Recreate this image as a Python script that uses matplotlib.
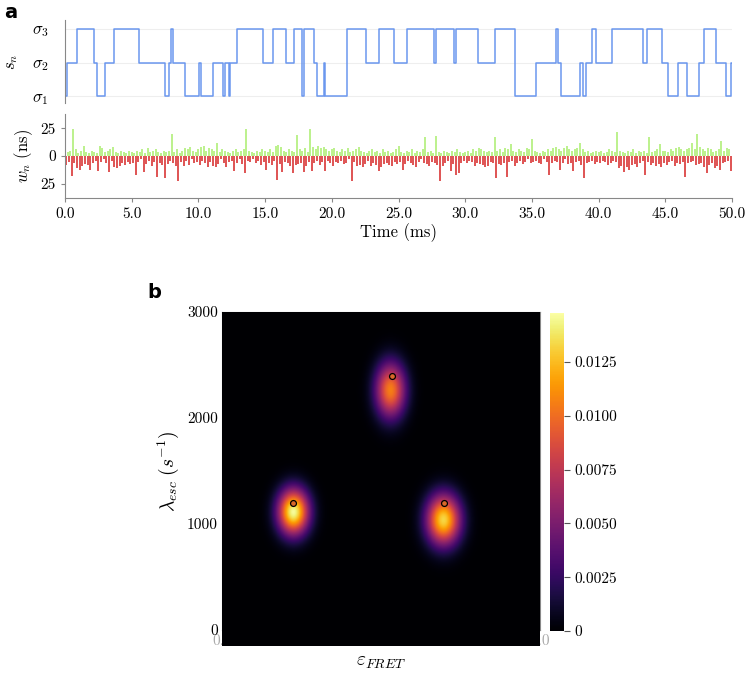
import numpy as np
import matplotlib
matplotlib.use('Agg')
import matplotlib.pyplot as plt

plt.rcParams['font.family'] = 'serif'
plt.rcParams['font.serif'] = ['cmr10', 'DejaVu Serif']
plt.rcParams['mathtext.fontset'] = 'cm'
plt.rcParams['axes.unicode_minus'] = False
plt.rcParams['axes.formatter.use_mathtext'] = True

# --- panel a: state trajectory (switch time in ms, new state) ---
state_start = 1
switch_t = [0.17, 0.88, 2.20, 2.37, 3.00, 3.67, 5.52, 7.50, 7.82, 7.93, 8.08, 9.03,
            10.07, 10.17, 11.12, 11.82, 12.03, 12.30, 12.38, 12.92, 14.87, 15.57,
            16.54, 17.19, 17.79, 17.92, 18.69, 18.87, 19.44, 19.50, 21.12, 22.56,
            23.54, 24.69, 25.66, 27.66, 27.81, 29.18, 29.31, 30.98, 32.23, 33.71,
            35.28, 36.81, 36.93, 37.16, 38.60, 38.80, 39.03, 39.48, 39.78, 41.03,
            43.35, 43.65, 44.73, 45.18, 45.98, 46.60, 47.55, 47.92, 48.78, 49.53,
            49.90]
switch_s = [2, 3, 2, 1, 2, 3, 2, 1, 2, 3, 2, 1,
            2, 1, 2, 1, 2, 1, 2, 3, 2, 3,
            2, 3, 1, 3, 2, 1, 2, 1, 3, 2,
            3, 2, 3, 2, 3, 2, 3, 2, 3, 1,
            2, 3, 2, 1, 2, 1, 2, 3, 2, 3,
            2, 3, 2, 1, 2, 1, 2, 3, 2, 1,
            2]
t_end = 50.0

# photon weights w_n, one value per 0.2 ms slot (0 = no photon)
slot_ms = 0.2
green_h = [3, 4, 5, 24, 6, 3, 5, 9, 4, 3, 5, 4, 3, 9, 7, 4, 5, 6, 8, 4, 3, 5, 4, 3, 5,
           4, 3, 5, 4, 6, 3, 7, 4, 5, 6, 4, 3, 5, 4, 5, 20, 4, 6, 3, 5, 7, 6, 8, 5, 4,
           6, 8, 9, 5, 7, 6, 5, 12, 4, 6, 5, 4, 3, 5, 6, 4, 5, 6, 24, 5, 4, 3, 5, 4, 6,
           5, 4, 6, 4, 9, 10, 8, 5, 4, 6, 5, 4, 19, 6, 5, 7, 4, 24, 8, 6, 9, 7, 8, 6, 5,
           6, 7, 5, 4, 6, 5, 7, 4, 5, 6, 8, 5, 4, 3, 5, 6, 4, 5, 3, 6, 4, 5, 3, 4, 6,
           9, 4, 3, 5, 4, 6, 3, 5, 4, 6, 17, 4, 5, 3, 18, 4, 3, 5, 4, 3, 5, 4, 6, 4, 3,
           4, 5, 3, 6, 5, 7, 6, 5, 4, 5, 4, 17, 5, 6, 4, 7, 6, 11, 5, 4, 6, 5, 4, 7, 6,
           15, 5, 4, 3, 5, 4, 6, 5, 7, 8, 6, 5, 7, 9, 6, 5, 6, 7, 12, 6, 4, 5, 3, 4, 5,
           4, 5, 3, 4, 6, 5, 4, 22, 5, 4, 3, 5, 4, 6, 3, 5, 4, 5, 3, 17, 4, 5, 6, 11, 5,
           5, 4, 6, 5, 7, 8, 6, 5, 6, 7, 12, 6, 20, 8, 6, 5, 7, 6, 4, 5, 6, 14, 5, 7, 6]
red_h = [8, 5, 18, 6, 11, 12, 9, 7, 8, 12, 6, 4, 13, 5, 3, 6, 14, 4, 10, 11, 9, 6, 8, 5, 7,
         6, 17, 5, 3, 14, 7, 4, 9, 5, 19, 6, 8, 20, 7, 4, 6, 9, 22, 5, 9, 4, 8, 3, 6, 5,
         8, 4, 6, 10, 5, 9, 10, 7, 3, 6, 10, 5, 4, 13, 6, 3, 7, 15, 4, 5, 3, 6, 4, 8, 5,
         12, 6, 8, 4, 21, 7, 14, 5, 6, 9, 15, 8, 7, 6, 14, 9, 5, 13, 6, 4, 8, 5, 13, 4, 6,
         9, 5, 6, 4, 7, 6, 3, 22, 5, 9, 8, 10, 7, 4, 9, 6, 8, 13, 10, 7, 6, 8, 9, 5, 7,
         5, 12, 7, 4, 6, 8, 10, 5, 3, 6, 7, 9, 5, 6, 8, 22, 9, 6, 4, 13, 7, 17, 15, 6, 4,
         6, 4, 5, 9, 6, 7, 8, 10, 9, 5, 6, 20, 7, 8, 6, 19, 5, 4, 9, 6, 4, 7, 5, 3, 6,
         5, 4, 6, 7, 3, 5, 17, 6, 4, 5, 12, 6, 3, 7, 6, 13, 5, 4, 8, 20, 6, 5, 4, 7, 5,
         6, 4, 5, 8, 6, 4, 5, 11, 9, 14, 10, 12, 8, 7, 10, 6, 4, 17, 5, 8, 6, 9, 7, 10, 6,
         8, 5, 4, 9, 6, 7, 5, 19, 6, 5, 4, 8, 7, 6, 10, 15, 8, 6, 11, 9, 12, 6, 5, 4, 13]

# --- panel b: posterior density, three modes ---
mode_eps = [0.224, 0.697, 0.530]
mode_lam = [1115, 1040, 2265]
mode_sd_eps = [0.034, 0.037, 0.033]
mode_sd_lam = [150, 165, 180]
mode_peak = [0.0146, 0.0133, 0.0106]
truth_eps = [0.224, 0.697, 0.535]
truth_lam = [1195, 1195, 2395]
cbar_ticks = [0, 0.0025, 0.0050, 0.0075, 0.0100, 0.0125]
cbar_labels = ['0', '0.0025', '0.0050', '0.0075', '0.0100', '0.0125']

fig = plt.figure(figsize=(7.47, 6.75), dpi=100)

# top: s_n
ax1 = fig.add_axes([0.087, 0.847, 0.893, 0.123])
tt = [0.0] + switch_t + [t_end]
ss = [state_start] + switch_s + [switch_s[-1]]
ax1.step(tt, ss, where='post', color='#5b8ced', lw=1.1, alpha=0.9)
ax1.set_xlim(0, 50)
ax1.set_ylim(0.8, 3.25)
ax1.set_yticks([1, 2, 3])
ax1.set_yticklabels([r'$\sigma_1$', r'$\sigma_2$', r'$\sigma_3$'], fontsize=12)
ax1.yaxis.grid(True, color='#eeeeee', lw=0.8)
ax1.set_axisbelow(True)
ax1.tick_params(axis='y', length=0, pad=12)
ax1.set_xticks([])
for side in ['top', 'right', 'bottom']:
    ax1.spines[side].set_visible(False)
ax1.spines['left'].set_color('#888888')
ax1.set_ylabel(r'$s_n$', fontsize=12, labelpad=8)

# bottom: w_n
ax2 = fig.add_axes([0.087, 0.7067, 0.893, 0.124])
g_t = [slot_ms * i for i, h in enumerate(green_h) if h > 0]
g_h = [h for h in green_h if h > 0]
r_t = [slot_ms * i + slot_ms / 2 for i, h in enumerate(red_h) if h > 0]
r_h = [h for h in red_h if h > 0]
ax2.vlines(g_t, 0, g_h, color='#8fe840', lw=1.4, alpha=0.6)
ax2.vlines(r_t, 0, [-h for h in r_h], color='#d41a1a', lw=1.4, alpha=0.75)
ax2.set_xlim(0, 50)
ax2.set_ylim(-37.5, 37.5)
ax2.set_yticks([-25, 0, 25])
ax2.set_yticklabels(['25', '0', '25'], fontsize=11)
ax2.set_xticks(np.arange(0, 51, 5))
ax2.set_xticklabels(['%.1f' % v for v in np.arange(0, 51, 5)], fontsize=11)
ax2.tick_params(length=3, color='#888888')
for side in ['top', 'right']:
    ax2.spines[side].set_visible(False)
ax2.spines['left'].set_color('#888888')
ax2.spines['bottom'].set_color('#888888')
ax2.set_ylabel(r'$w_n\ \mathrm{(ns)}$', fontsize=12)
ax2.set_xlabel('Time (ms)', fontsize=12, labelpad=2)

# heatmap
ax3 = fig.add_axes([0.2972, 0.0667, 0.4257, 0.4711])
ex = np.linspace(0, 1, 400)
ly = np.linspace(-150, 3000, 500)
EX, LY = np.meshgrid(ex, ly)
dens = np.zeros_like(EX)
for me, ml, se, sl, pk in zip(mode_eps, mode_lam, mode_sd_eps, mode_sd_lam, mode_peak):
    dens += pk * np.exp(-0.5 * (((EX - me) / se) ** 2 + ((LY - ml) / sl) ** 2))
im = ax3.imshow(dens, origin='lower', extent=(0, 1, -150, 3000), aspect='auto',
                cmap='inferno', vmin=0, vmax=0.0148, interpolation='bilinear',
                zorder=3, clip_on=False)
ax3.scatter(truth_eps, truth_lam, s=18, facecolor='#d9682a', edgecolor='black',
            lw=0.9, zorder=4)
ax3.set_xlim(0, 1)
ax3.set_ylim(0, 3000)
ax3.set_xticks([0, 0.2, 0.4, 0.6, 0.8, 1.0])
ax3.set_xticklabels(['0.0', '0.2', '0.4', '0.6', '0.8', '1.0'], fontsize=11, color='#aaaaaa')
ax3.set_yticks([0, 1000, 2000, 3000])
ax3.set_yticklabels(['0', '1000', '2000', '3000'], fontsize=11)
ax3.tick_params(length=0, pad=3)
for side in ['top', 'right', 'bottom', 'left']:
    ax3.spines[side].set_color('#888888')
ax3.set_ylabel(r'$\lambda_{esc}\ (s^{-1})$', fontsize=14, labelpad=4)
ax3.set_xlabel(r'$\varepsilon_{FRET}$', fontsize=14, labelpad=4)

cax = fig.add_axes([0.7363, 0.0652, 0.0187, 0.4716])
cb = fig.colorbar(im, cax=cax)
cb.set_ticks(cbar_ticks)
cb.set_ticklabels(cbar_labels)
cb.ax.tick_params(labelsize=11, length=4, color='#555555')
cb.outline.set_visible(False)

fig.text(0.006, 0.982, 'a', fontsize=14, fontweight='bold', family='DejaVu Sans', va='center')
fig.text(0.197, 0.566, 'b', fontsize=14, fontweight='bold', family='DejaVu Sans', va='center')

fig.savefig('out.png', dpi=100)
